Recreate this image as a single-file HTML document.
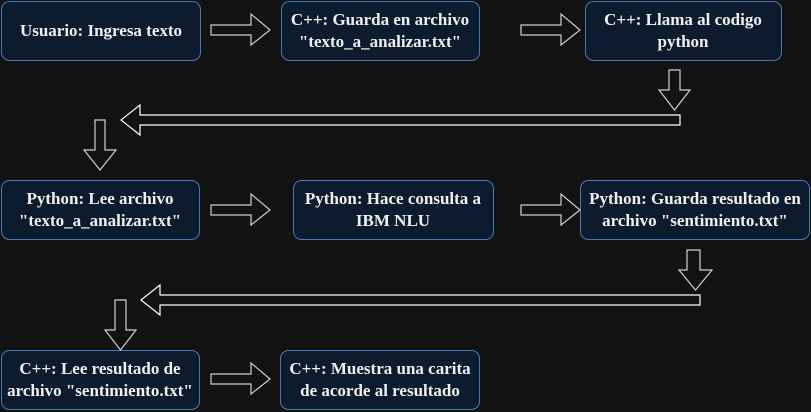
<!DOCTYPE html>
<html><head><style>
html,body{margin:0;padding:0;background:#121212;}
svg{display:block;}
</style></head><body>
<svg width="811" height="412" xmlns="http://www.w3.org/2000/svg">
<rect width="811" height="412" fill="#121212"/>
<g fill="#0d1b2e" stroke="#4a78b4" stroke-width="1">
<rect x="1.5" y="1.5" width="199" height="59" rx="8"/>
<rect x="281.5" y="1.5" width="198" height="59" rx="8"/>
<rect x="585.5" y="1.5" width="196" height="59" rx="8"/>
<rect x="1.5" y="180.5" width="198" height="59" rx="8"/>
<rect x="293.5" y="180.5" width="200" height="59" rx="8"/>
<rect x="580.5" y="180.5" width="229" height="59" rx="8"/>
<rect x="1.5" y="350.5" width="198" height="59" rx="8"/>
<rect x="280.5" y="350.5" width="199" height="59" rx="8"/>
</g>
<g font-family="'Liberation Serif', 'DejaVu Serif', serif" font-weight="bold" font-size="17" fill="#f0f0f0" text-anchor="middle">
<text x="101" y="36">Usuario: Ingresa texto</text>
<text x="380" y="25">C++: Guarda en archivo</text>
<text x="380" y="47">"texto_a_analizar.txt"</text>
<text x="683" y="25">C++: Llama al codigo</text>
<text x="683" y="47">python</text>
<text x="100" y="204">Python: Lee archivo</text>
<text x="100" y="226">"texto_a_analizar.txt"</text>
<text x="393" y="204">Python: Hace consulta a</text>
<text x="393" y="226">IBM NLU</text>
<text x="695" y="204">Python: Guarda resultado en</text>
<text x="695" y="226">archivo "sentimiento.txt"</text>
<text x="100" y="374">C++: Lee resultado de</text>
<text x="100" y="396">archivo "sentimiento.txt"</text>
<text x="380" y="374">C++: Muestra una carita</text>
<text x="380" y="396">de acorde al resultado</text>
</g>
<g fill="none" stroke="#cfcfcf" stroke-width="1.2">
<path d="M211,25 H251 V14 L270,30 L251,45 V35 H211 Z"/>
<path d="M521,25 H561 V14 L580,30 L561,45 V35 H521 Z"/>
<path d="M211,205 H251 V194 L270,210 L251,225 V215 H211 Z"/>
<path d="M521,205 H561 V194 L580,210 L561,225 V215 H521 Z"/>
<path d="M211,374 H251 V363 L270,379 L251,394 V384 H211 Z"/>
<path d="M669,70 H680 V90 H690 L674.5,110 L659,90 H669 Z"/>
<path d="M680,115 H140 V105 L121,120 L140,135 V125 H680 Z" stroke="#ffffff"/>
<path d="M95,120 H105 V150 H116 L100,170 L84,150 H95 Z"/>
<path d="M687,250 H700 V270 H712 L695.5,290 L679,270 H687 Z"/>
<path d="M700,295 H160 V285 L141,300 L160,315 V305 H700 Z" stroke="#ffffff"/>
<path d="M115,300 H126 V330 H136 L120.5,350 L105,330 H115 Z"/>
</g>
</svg>
</body></html>
